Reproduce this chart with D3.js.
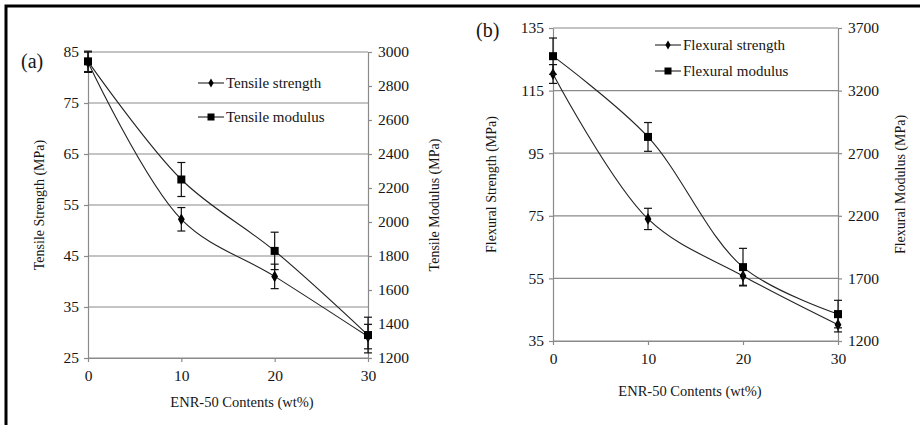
<!DOCTYPE html>
<html>
<head>
<meta charset="utf-8">
<script src="https://cdn.jsdelivr.net/npm/d3@7"></script>
<style>
  body { margin: 0; background: #fff; }
  svg { display: block; }
  text { font-family: "Liberation Serif", "Times New Roman", serif; fill: #151515; }
  .grid line { stroke: #8a8a8a; stroke-width: 1.2; }
  .axis path, .axis line { stroke: #8a8a8a; stroke-width: 1.2; }
  .axis text { font-size: 15.5px; }
</style>
</head>
<body>
<div id="chart"></div>
<script>
// ENR-50 contents (wt%)
const contents = [0, 10, 20, 30];

// (a) tensile
const tensileStrength = [83.0, 52.2, 41.0, 29.2];
const tensileStrengthErr = [2.0, 2.3, 2.4, 2.4];
const tensileModulus = [2945, 2250, 1830, 1335];
const tensileModulusErr = [60, 100, 110, 105];

// (b) flexural
const flexuralStrength = [120.3, 74.0, 55.8, 40.2];
const flexuralStrengthErr = [3.0, 3.4, 3.0, 2.3];
const flexuralModulus = [3475, 2830, 1790, 1415];
const flexuralModulusErr = [145, 115, 150, 110];

const xTicks = [0, 10, 20, 30];
const svg = d3.select("#chart").append("svg")
    .attr("width", 920).attr("height", 425);

// frame (only left and top edges fall inside the picture)
svg.append("path")
    .attr("d", "M6,425 V6 H920")
    .attr("fill", "none")
    .attr("stroke", "#000")
    .attr("stroke-width", 3);

function panel(cfg) {
    const g = svg.append("g");
    const x = d3.scaleLinear().domain([0, 30]).range([cfg.left, cfg.right]);
    const yL = d3.scaleLinear().domain(cfg.leftDomain).range([cfg.bottom, cfg.top]);
    const yR = d3.scaleLinear().domain(cfg.rightDomain).range([cfg.bottom, cfg.top]);
    const leftTicks = d3.range(cfg.leftDomain[0], cfg.leftDomain[1] + 0.1, cfg.leftStep);
    const rightTicks = d3.range(cfg.rightDomain[0], cfg.rightDomain[1] + 0.1, cfg.rightStep);

    // horizontal gridlines
    g.append("g").attr("class", "grid")
        .selectAll("line").data(leftTicks)
        .join("line")
        .attr("x1", cfg.left).attr("x2", cfg.right)
        .attr("y1", d => yL(d)).attr("y2", d => yL(d));

    g.append("g").attr("class", "axis")
        .attr("transform", `translate(${cfg.left},0)`)
        .call(d3.axisLeft(yL).tickValues(leftTicks).tickFormat(d3.format("d"))
            .tickSize(4).tickPadding(5).tickSizeOuter(0));

    g.append("g").attr("class", "axis")
        .attr("transform", `translate(${cfg.right},0)`)
        .call(d3.axisRight(yR).tickValues(rightTicks).tickFormat(d3.format("d"))
            .tickSize(4).tickPadding(6).tickSizeOuter(0));

    g.append("g").attr("class", "axis")
        .attr("transform", `translate(0,${cfg.bottom})`)
        .call(d3.axisBottom(x).tickValues(xTicks).tickSize(4).tickPadding(8).tickSizeOuter(0));

    g.selectAll(".axis").attr("font-family", null).attr("font-size", null);

    // axis titles
    g.append("text")
        .attr("transform", `translate(${cfg.leftTitleX},${(cfg.top + cfg.bottom) / 2}) rotate(-90)`)
        .attr("text-anchor", "middle").attr("font-size", 14)
        .text(cfg.leftTitle);
    g.append("text")
        .attr("transform", `translate(${cfg.rightTitleX},${(cfg.top + cfg.bottom) / 2}) rotate(-90)`)
        .attr("text-anchor", "middle").attr("font-size", 14)
        .text(cfg.rightTitle);
    g.append("text")
        .attr("x", cfg.xTitleX).attr("y", cfg.xTitleY)
        .attr("text-anchor", "middle").attr("font-size", 14.5)
        .text("ENR-50 Contents (wt%)");

    g.append("text")
        .attr("x", cfg.tagX).attr("y", cfg.tagY)
        .attr("font-size", 20)
        .text(cfg.tag);

    const curve = d3.curveCatmullRom.alpha(0.5);

    function series(vals, errs, y, shape) {
        const pts = contents.map((c, i) => ({ x: c, v: vals[i], e: errs[i] }));
        g.append("path")
            .datum(pts)
            .attr("fill", "none").attr("stroke", "#222").attr("stroke-width", 1.1)
            .attr("d", d3.line().x(d => x(d.x)).y(d => y(d.v)).curve(curve));
        const eb = g.append("g").attr("stroke", "#111").attr("stroke-width", 1.2);
        eb.selectAll("line.v").data(pts).join("line")
            .attr("x1", d => x(d.x)).attr("x2", d => x(d.x))
            .attr("y1", d => y(d.v - d.e)).attr("y2", d => y(d.v + d.e));
        eb.selectAll("line.t").data(pts.flatMap(d => [d.v - d.e, d.v + d.e].map(v => ({ x: d.x, v })))).join("line")
            .attr("x1", d => x(d.x) - 4).attr("x2", d => x(d.x) + 4)
            .attr("y1", d => y(d.v)).attr("y2", d => y(d.v));
        const mk = g.append("g").attr("fill", "#000");
        if (shape === "square") {
            mk.selectAll("rect").data(pts).join("rect")
                .attr("x", d => x(d.x) - 4).attr("y", d => y(d.v) - 4)
                .attr("width", 8).attr("height", 8);
        } else {
            mk.selectAll("path").data(pts).join("path")
                .attr("transform", d => `translate(${x(d.x)},${y(d.v)})`)
                .attr("d", d3.symbol(d3.symbolDiamond, 40));
        }
    }
    series(cfg.s1, cfg.e1, yL, "diamond");
    series(cfg.s2, cfg.e2, yR, "square");

    // legend
    const lg = g.append("g");
    cfg.legend.forEach((name, i) => {
        const ly = cfg.legY + i * cfg.legGap;
        lg.append("line").attr("x1", cfg.legX).attr("x2", cfg.legX + 26)
            .attr("y1", ly).attr("y2", ly).attr("stroke", "#222").attr("stroke-width", 1.1);
        if (i === 0) {
            lg.append("path").attr("transform", `translate(${cfg.legX + 13},${ly})`)
                .attr("d", d3.symbol(d3.symbolDiamond, 24));
        } else {
            lg.append("rect").attr("x", cfg.legX + 9.5).attr("y", ly - 3.5)
                .attr("width", 7).attr("height", 7);
        }
        lg.append("text").attr("x", cfg.legX + 28).attr("y", ly + 4.5)
            .attr("font-size", 15).text(name);
    });
}

panel({
    left: 88, right: 368, top: 52, bottom: 358,
    leftDomain: [25, 85], leftStep: 10,
    rightDomain: [1200, 3000], rightStep: 200,
    leftTitle: "Tensile Strength (MPa)", rightTitle: "Tensile Modulus (MPa)",
    leftTitleX: 44, rightTitleX: 439,
    xTitleX: 242, xTitleY: 407,
    tag: "(a)", tagX: 21, tagY: 68,
    s1: tensileStrength, e1: tensileStrengthErr,
    s2: tensileModulus, e2: tensileModulusErr,
    legend: ["Tensile strength", "Tensile modulus"],
    legX: 198, legY: 83, legGap: 34
});

panel({
    left: 553, right: 838, top: 28, bottom: 341,
    leftDomain: [35, 135], leftStep: 20,
    rightDomain: [1200, 3700], rightStep: 500,
    leftTitle: "Flexural Strength (MPa)", rightTitle: "Flexural Modulus (MPa)",
    leftTitleX: 496, rightTitleX: 905,
    xTitleX: 690, xTitleY: 396,
    tag: "(b)", tagX: 476, tagY: 37,
    s1: flexuralStrength, e1: flexuralStrengthErr,
    s2: flexuralModulus, e2: flexuralModulusErr,
    legend: ["Flexural strength", "Flexural modulus"],
    legX: 655, legY: 45, legGap: 26
});
</script>
</body>
</html>
